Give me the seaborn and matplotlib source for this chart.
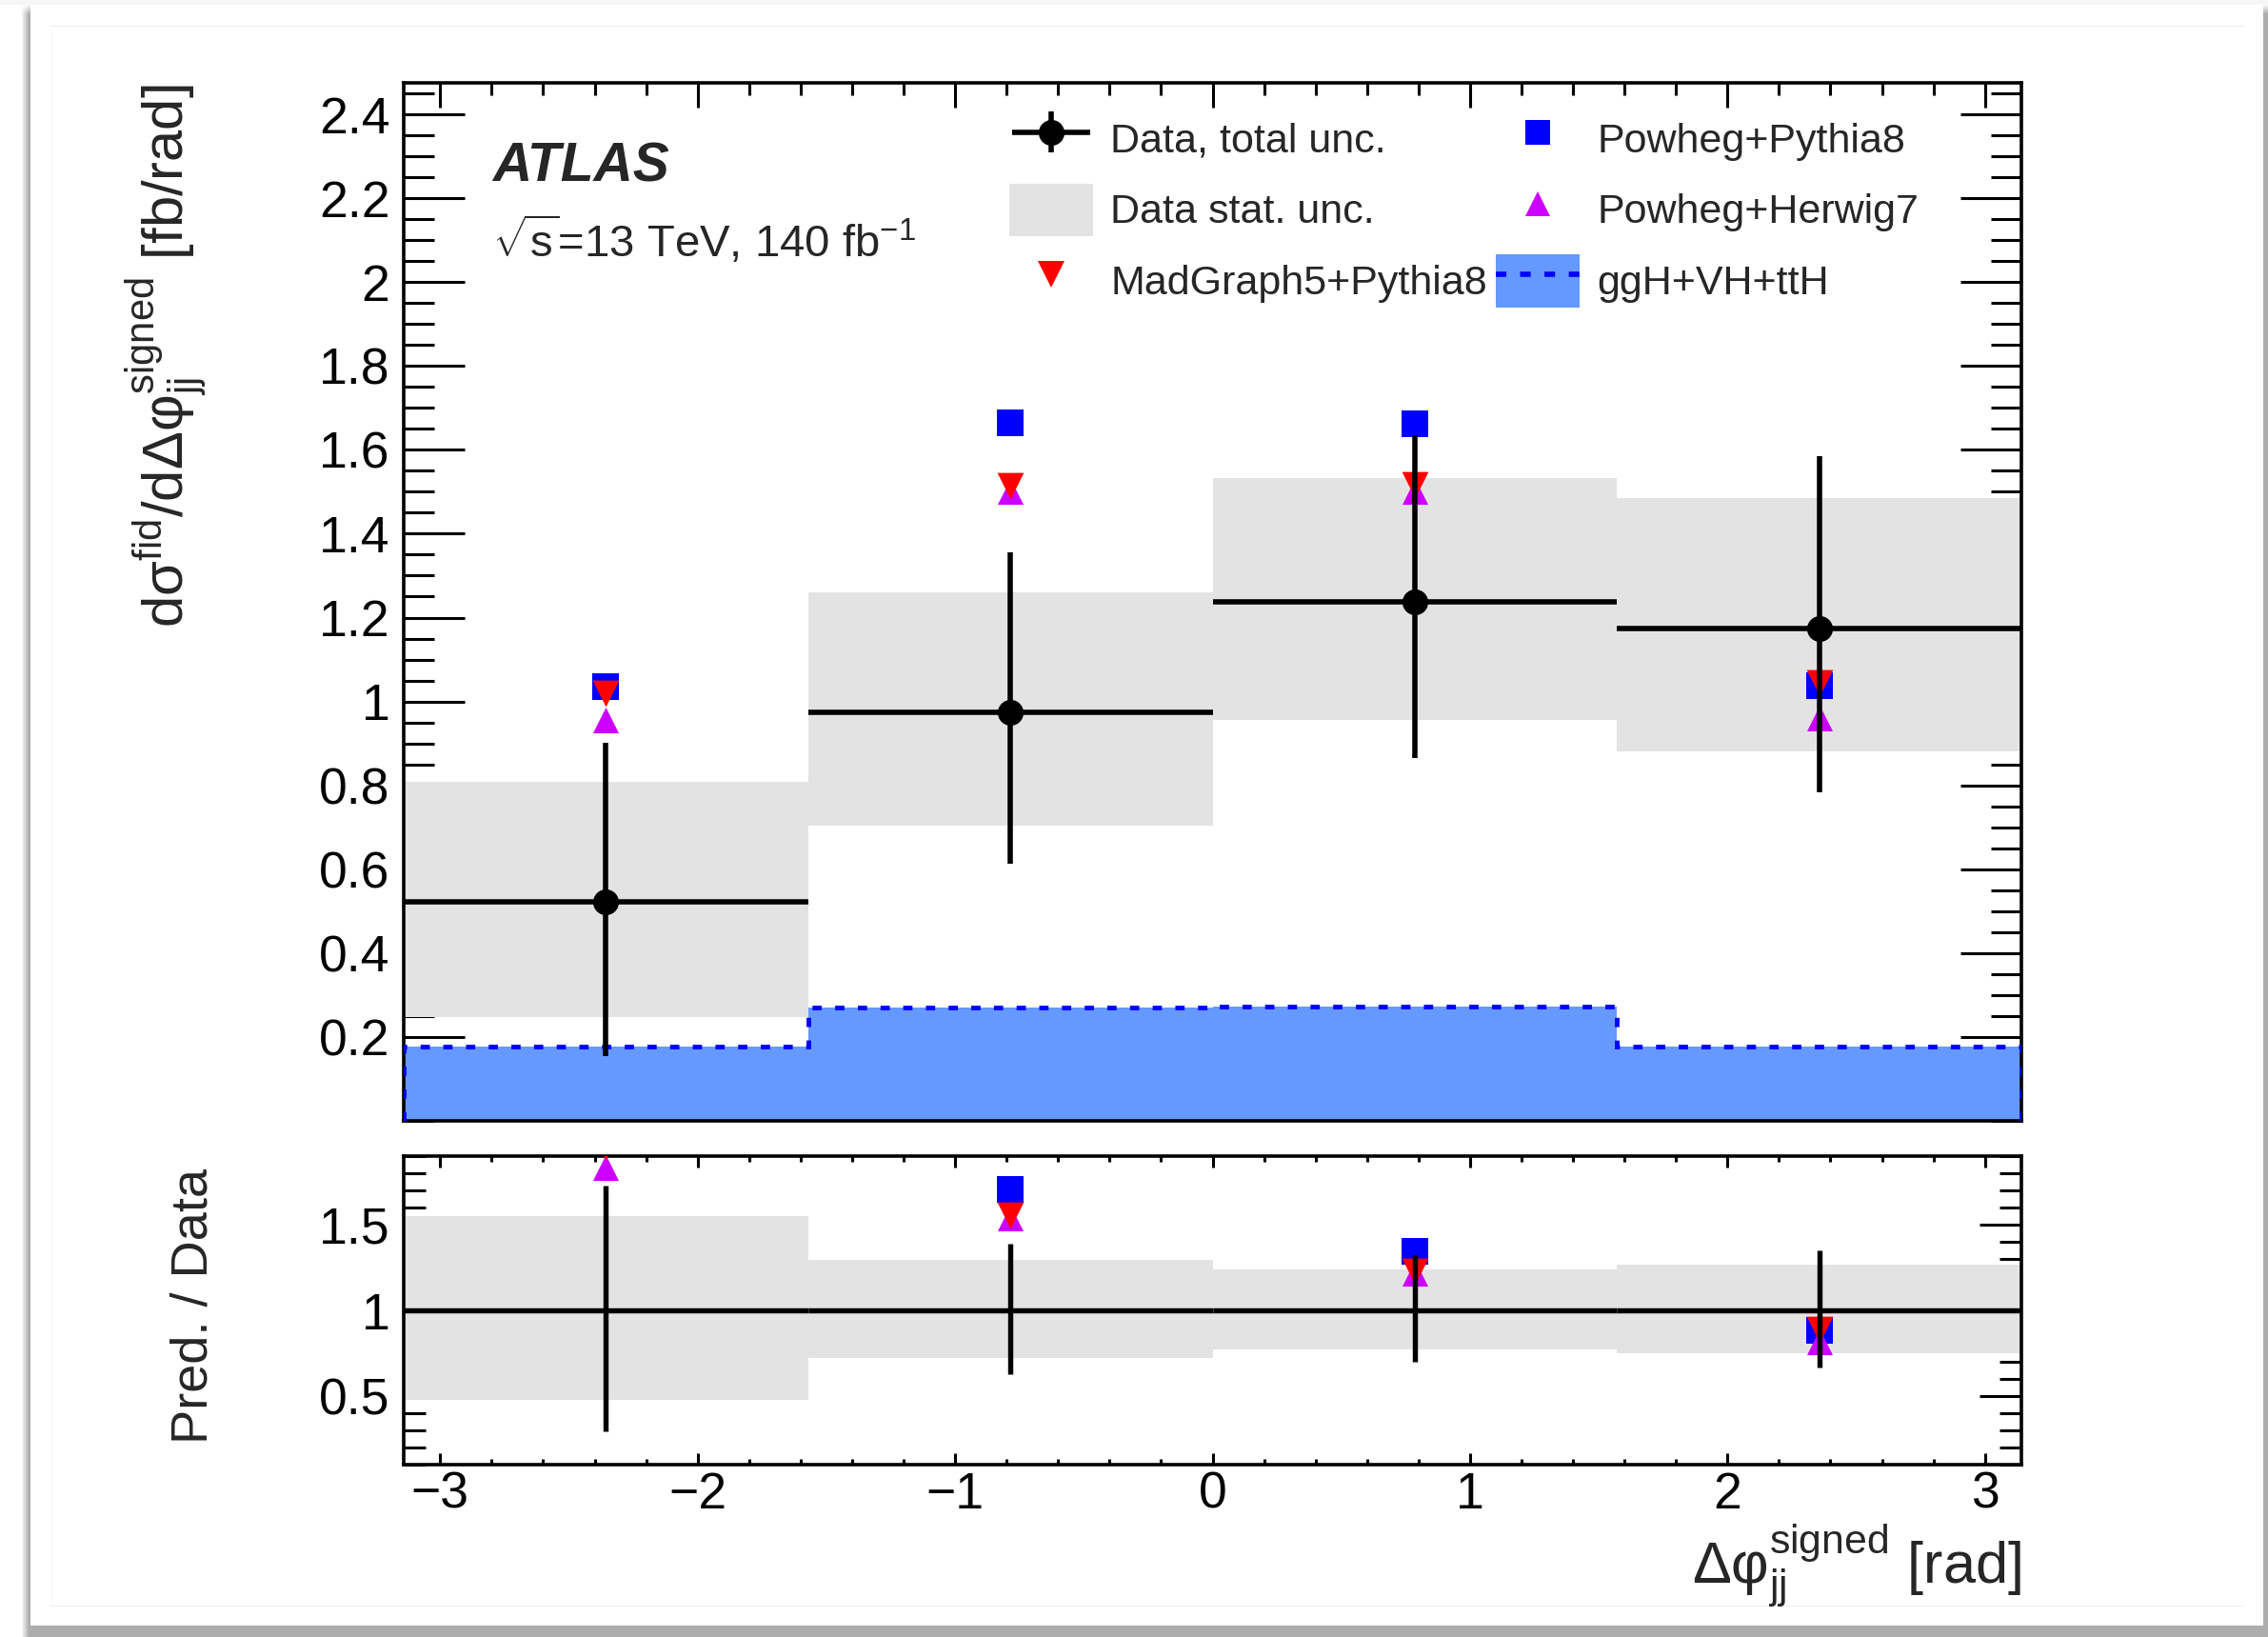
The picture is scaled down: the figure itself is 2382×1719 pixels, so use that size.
import numpy as np
import matplotlib
matplotlib.use("Agg")
import matplotlib.pyplot as plt
from matplotlib.patches import Patch
from matplotlib.lines import Line2D
from matplotlib.container import ErrorbarContainer
from matplotlib.legend_handler import HandlerErrorbar
from matplotlib.ticker import MultipleLocator, FixedLocator, FuncFormatter
import seaborn as sns

# ---------------------------------------------------------------- data
bin_edges = [-np.pi, -np.pi / 2, 0.0, np.pi / 2, np.pi]

data_xsec = [0.522, 0.975, 1.237, 1.174]          # fb/rad
data_tot_up = [0.380, 0.381, 0.397, 0.410]
data_tot_dn = [0.367, 0.363, 0.372, 0.390]
data_stat_up = [0.286, 0.285, 0.296, 0.311]
data_stat_dn = [0.274, 0.270, 0.281, 0.293]

powheg_pythia8 = [1.036, 1.665, 1.661, 1.038]
powheg_herwig7 = [0.957, 1.500, 1.502, 0.960]
madgraph5_pythia8 = [1.020, 1.515, 1.517, 1.045]
ggh_vh_tth = [0.178, 0.271, 0.273, 0.176]

main_yticks = [0.2, 0.4, 0.6, 0.8, 1.0, 1.2, 1.4, 1.6, 1.8, 2.0, 2.2, 2.4]
ratio_yticks = [0.5, 1.0, 1.5]
xticks = [-3, -2, -1, 0, 1, 2, 3]

# ---------------------------------------------------------------- style
sns.set_theme(style="ticks")
plt.rcParams["font.family"] = ["Liberation Sans", "DejaVu Sans"]
plt.rcParams["mathtext.fontset"] = "custom"
plt.rcParams["mathtext.rm"] = "Liberation Sans"
plt.rcParams["mathtext.it"] = "Liberation Sans:italic"
plt.rcParams["mathtext.bf"] = "Liberation Sans:bold"
plt.rcParams["mathtext.sf"] = "Liberation Sans"
plt.rcParams["mathtext.default"] = "regular"

C_STAT = "#e3e3e3"
C_FILL = "#6699ff"
C_DOT = "#0000ff"
C_PP8 = "#0000ff"
C_PH7 = "#cc00ff"
C_MG5 = "#ff0000"

W, H = 2382, 1719
fig = plt.figure(figsize=(W / 100, H / 100), dpi=100)
fig.patch.set_facecolor("white")

# card with a soft drop shadow behind the plot
yy, xx = np.mgrid[0:H, 0:W].astype(float)


def ramp(v, a, b, s):
    return np.clip((v - a) / s, 0, 1) * np.clip((b - v) / s, 0, 1)


shade = 0.32 * ramp(xx, 22, 2400, 8) * ramp(yy, 4, 1760, 10)
bg = 1.0 - shade
bg[:5, :] = np.minimum(bg[:5, :], 0.965)
inside = (xx >= 32) & (xx < 2377) & (yy >= 5) & (yy < 1707)
bg[inside] = 1.0
bg[27, 54:2357] = 0.93
bg[1686, 54:2357] = 0.93
bg[27:1687, 54] = 0.96
img = np.dstack([bg, bg, bg])
fig.figimage(img, xo=0, yo=0, origin="upper", zorder=-10)

ax = fig.add_axes([424 / W, 1 - 1177 / H, (2123 - 424) / W, (1177 - 87) / H])
rax = fig.add_axes([424 / W, 1 - 1538 / H, (2123 - 424) / W, (1538 - 1214) / H])

edges = np.array(bin_edges)
centers = 0.5 * (edges[:-1] + edges[1:])
widths = np.diff(edges)
xsec = np.array(data_xsec)
tup, tdn = np.array(data_tot_up), np.array(data_tot_dn)
sup, sdn = np.array(data_stat_up), np.array(data_stat_dn)

# ---------------------------------------------------------------- main panel
ax.bar(centers, sup + sdn, bottom=xsec - sdn, width=widths,
       color=C_STAT, linewidth=0, zorder=1)
ax.stairs(ggh_vh_tth, edges, fill=True, color=C_FILL, linewidth=0, zorder=2)
ax.stairs(ggh_vh_tth, edges, baseline=0, fill=False, color=C_DOT,
          linewidth=3.5, linestyle=(0, (2.0, 2.9)), zorder=3)

pred = {
    "Powheg+Pythia8": (powheg_pythia8, "s", C_PP8, 400),
    "Powheg+Herwig7": (powheg_herwig7, "^", C_PH7, 380),
    "MadGraph5+Pythia8": (madgraph5_pythia8, "v", C_MG5, 400),
}
for name, (vals, mk, col, s) in pred.items():
    sns.scatterplot(x=centers, y=vals, marker=mk, color=col, s=s,
                    linewidth=0, ax=ax, zorder=5, legend=False)

eb = ax.errorbar(centers, xsec, xerr=widths / 2, yerr=[tdn, tup], fmt="o",
                 color="black", ms=19.5, mew=0, elinewidth=4, capsize=0,
                 zorder=6)

ax.set_xlim(-np.pi, np.pi)
ax.set_ylim(0, 2.475)
ax.yaxis.set_major_locator(FixedLocator(main_yticks))
ax.yaxis.set_minor_locator(MultipleLocator(0.05))
ax.xaxis.set_major_locator(FixedLocator(xticks))
ax.xaxis.set_minor_locator(MultipleLocator(0.2))
ax.yaxis.set_major_formatter(FuncFormatter(lambda v, p: f"{v:g}"))
ax.tick_params(axis="x", which="both", labelbottom=False)

# ---------------------------------------------------------------- ratio panel
rax.bar(centers, (sup + sdn) / xsec, bottom=1 - sdn / xsec, width=widths,
        color=C_STAT, linewidth=0, zorder=1)
for name, (vals, mk, col, s) in pred.items():
    sns.scatterplot(x=centers, y=np.array(vals) / xsec, marker=mk, color=col,
                    s=s, linewidth=0, ax=rax, zorder=5, legend=False)
rax.errorbar(centers, np.ones_like(xsec), xerr=widths / 2,
             yerr=[tdn / xsec, tup / xsec], fmt="none", color="black",
             elinewidth=3.9, capsize=0, zorder=6)

rax.set_xlim(-np.pi, np.pi)
rax.set_ylim(0.1, 1.9)
rax.yaxis.set_major_locator(FixedLocator(ratio_yticks))
rax.yaxis.set_minor_locator(MultipleLocator(0.1))
rax.xaxis.set_major_locator(FixedLocator(xticks))
rax.xaxis.set_minor_locator(MultipleLocator(0.2))
rax.yaxis.set_major_formatter(FuncFormatter(lambda v, p: f"{v:g}"))
rax.xaxis.set_major_formatter(FuncFormatter(lambda v, p: f"{v:g}".replace("-", "\u2212")))

for a in (ax, rax):
    a.set_facecolor("white")
    for sp in a.spines.values():
        sp.set_linewidth(2.6)
        sp.set_color("black")
        sp.set_visible(True)
    a.tick_params(which="both", direction="in", top=True, right=True,
                  width=2.2, color="black", labelsize=38.5, labelcolor="black")
    a.tick_params(axis="y", which="major", pad=10.5)
    a.tick_params(axis="x", which="major", pad=5)

ax.tick_params(axis="y", which="major", length=46)
ax.tick_params(axis="y", which="minor", length=23)
ax.tick_params(axis="x", which="major", length=18.7)
ax.tick_params(axis="x", which="minor", length=9.4)
rax.tick_params(axis="y", which="major", length=32)
rax.tick_params(axis="y", which="minor", length=16.5)
rax.tick_params(axis="x", which="major", length=8.6)
rax.tick_params(axis="x", which="minor", length=4.3)

# ---------------------------------------------------------------- legend
h_stat = Patch(facecolor=C_STAT, edgecolor="none")
h_mg5 = Line2D([], [], marker="v", ls="none", color=C_MG5, ms=20, mew=0)
h_pp8 = Line2D([], [], marker="s", ls="none", color=C_PP8, ms=19, mew=0)
h_ph7 = Line2D([], [], marker="^", ls="none", color=C_PH7, ms=19, mew=0)
h_ggh = (Patch(facecolor=C_FILL, edgecolor="none"),
         Line2D([], [], color=C_DOT, lw=4, ls=(0, (2.0, 2.6))))
leg = ax.legend(
    [eb, h_stat, h_mg5, h_pp8, h_ph7, h_ggh],
    ["Data, total unc.", "Data stat. unc.", "MadGraph5+Pythia8",
     "Powheg+Pythia8", "Powheg+Herwig7", "ggH+VH+ttH"],
    ncol=2, loc="upper left", bbox_to_anchor=(1060 / W, 1 - 118 / H),
    bbox_transform=fig.transFigure, frameon=False, fontsize=31,
    borderpad=0, borderaxespad=0, handlelength=2.05, handleheight=1.6,
    handletextpad=0.42, columnspacing=0.2, labelspacing=0.45,
    handler_map={ErrorbarContainer: HandlerErrorbar(xerr_size=0.95, yerr_size=0.5)},
)

# ---------------------------------------------------------------- labels
fig.text(517 / W, 1 - 190 / H, "ATLAS", fontsize=41, fontweight="bold",
         fontstyle="italic", va="baseline", ha="left")
fig.text(517 / W, 1 - 270 / H, r"$\sqrt{s}$=13 TeV, 140 fb$^{-1}$",
         fontsize=34, va="baseline", ha="left")

fig.text(175 / W, 1 - 88 / H,
         r"d$\sigma^{fid}$/d$\Delta\varphi_{jj}^{signed}$ [fb/rad]",
         rotation=90, ha="center", va="top", fontsize=43)
fig.text(203 / W, 1 - 1371 / H, "Pred. / Data", rotation=90,
         ha="center", va="center", fontsize=39)
fig.text(2123 / W, 1 - 1598 / H, r"$\Delta\varphi_{jj}^{signed}$ [rad]",
         ha="right", va="top", fontsize=44)

fig.savefig("out.png", dpi=100)
